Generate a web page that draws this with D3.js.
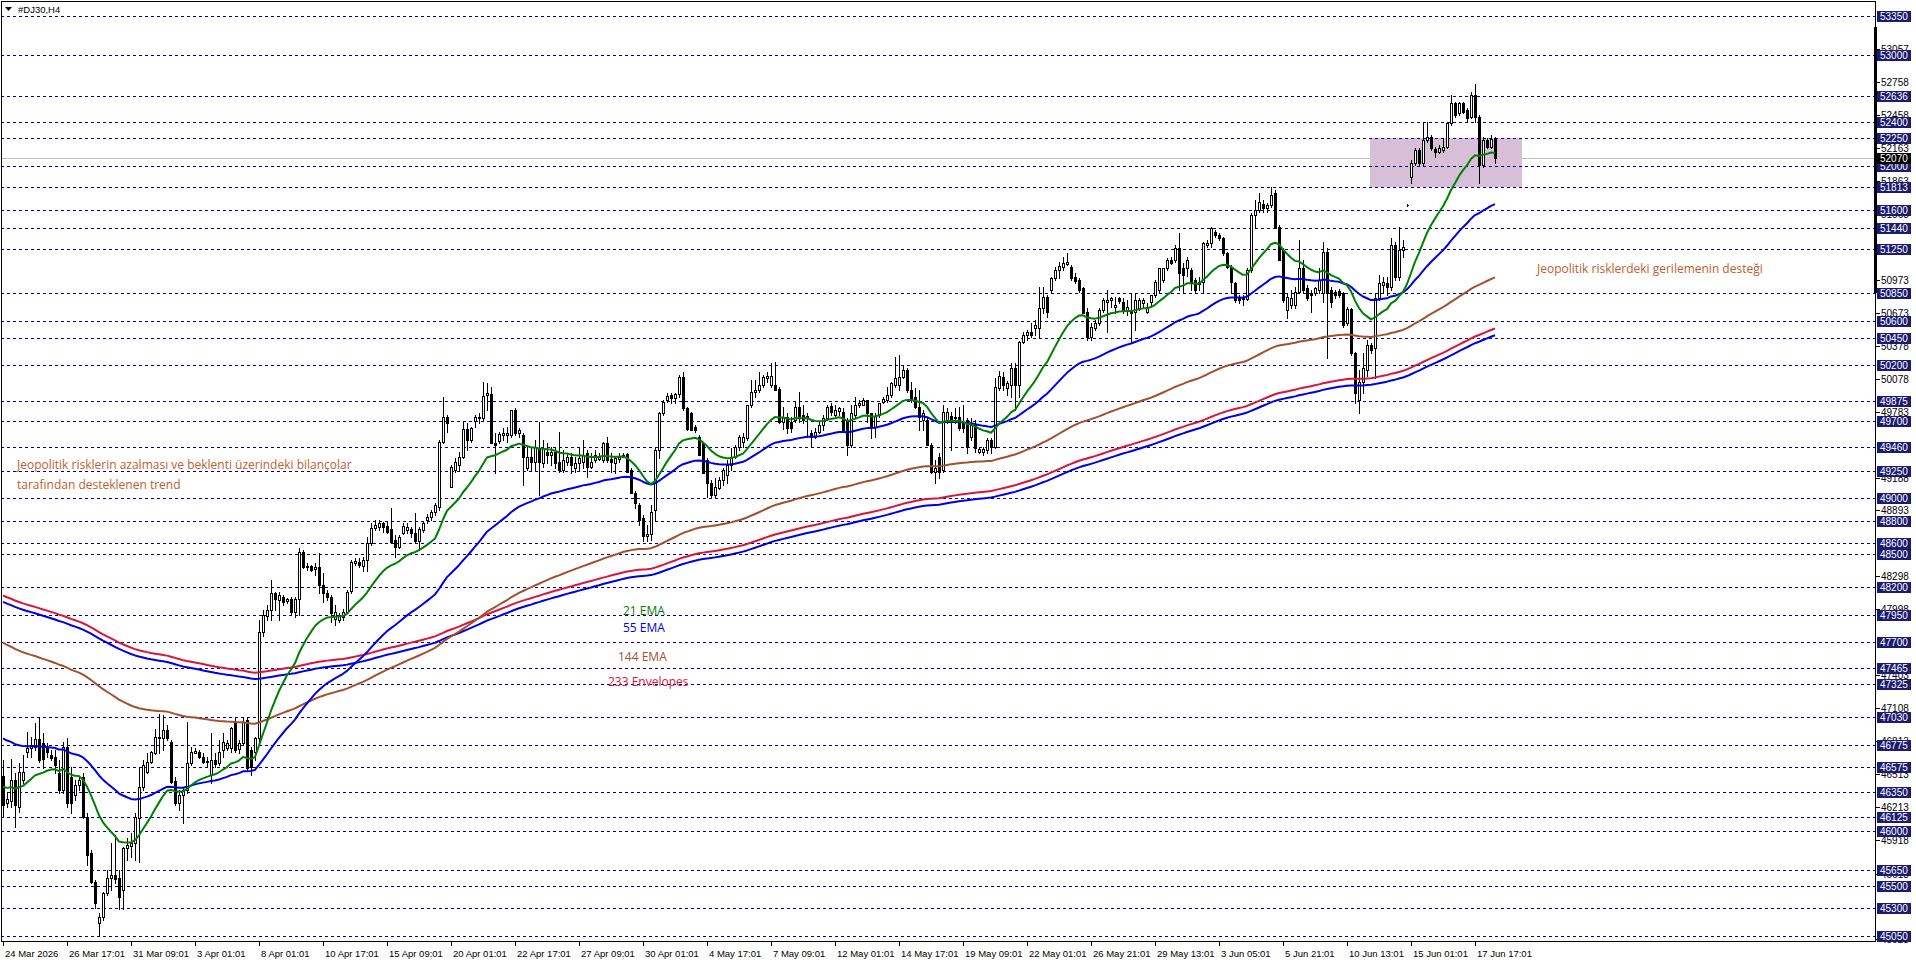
<!DOCTYPE html>
<html>
<head>
<meta charset="utf-8">
<script src="https://cdn.jsdelivr.net/npm/d3@7"></script>
<style>
  body { margin: 0; background: #fff; overflow: hidden; }
  svg { display: block; }
</style>
</head>
<body>
<div id="chart"></div>
<script>
// #DJ30 H4 candles (oldest first)
const openP = [
  46494,46250,46268,46458,46214,46458,46711,46747,46756,46828,
  46792,46756,46684,46666,46521,46368,46756,46485,46323,46413,
  46485,46124,45799,45537,45167,45222,45438,45573,45600,45573,
  45465,45844,45862,45890,46115,46395,46530,46620,46702,46837,
  46837,46909,46801,46449,46250,46323,46368,46611,46702,46711,
  46666,46629,46503,46638,46611,46729,46747,46747,46972,46738,
  46792,46999,46729,46711,46837,47794,47938,47992,48145,48082,
  48109,48073,48091,47974,48091,48516,48380,48389,48362,48380,
  48217,48145,48109,47911,47902,47929,47974,48163,48416,48425,
  48389,48444,48597,48732,48741,48777,48750,48723,48624,48561,
  48687,48714,48723,48687,48615,48714,48804,48831,48876,48922,
  49508,49734,49102,49255,49300,49373,49625,49526,49698,49725,
  49725,49932,49941,49499,49517,49571,49571,49571,49797,49590,
  49571,49273,49373,49327,49454,49318,49418,49391,49418,49327,
  49255,49327,49373,49273,49318,49327,49409,49282,49345,49355,
  49345,49499,49355,49318,49355,49373,49400,49255,49048,48940,
  48822,48660,48678,48894,49436,49770,49887,49932,49905,49941,
  50095,49815,49770,49643,49553,49499,49345,49138,49030,49093,
  49165,49210,49300,49373,49463,49508,49544,49842,49959,49977,
  50023,50086,50023,50023,49986,49688,49734,49688,49707,49824,
  49752,49725,49590,49553,49598,49661,49725,49833,49752,49788,
  49779,49707,49481,49752,49842,49842,49887,49770,49643,49752,
  49869,49887,49932,50023,50023,50095,50158,49977,49914,49824,
  49707,49707,49481,49237,49373,49255,49707,49743,49725,49734,
  49688,49707,49553,49661,49418,49418,49436,49526,49463,49995,
  50095,49995,50023,50176,50023,50411,50474,50501,50537,50537,
  50718,50817,50880,50988,51060,51087,51114,51087,50997,50970,
  50898,50682,50456,50537,50582,50700,50772,50790,50727,50808,
  50772,50700,50700,50682,50718,50763,50682,50772,50835,50880,
  50970,51078,51150,51150,51259,51078,51078,51060,50970,50934,
  50952,51286,51304,51403,51376,51349,51214,51087,50943,50817,
  50817,50799,51060,51556,51602,51656,51620,51647,51755,51448,
  51241,50700,50745,50745,50862,51078,50898,50853,50853,50880,
  50853,51223,50880,50862,50871,50853,50582,50709,50312,49887,
  50050,50158,50384,50357,50808,50925,50943,50907,51286,50997,
  51241,51647,51900,52026,52144,52026,52234,52261,52153,52126,
  52144,52171,52387,52568,52478,52568,52505,52442,52640,52442,
  52008,52234,52171,52252
];
const highP = [
  46638,46341,46648,46521,46611,46684,46891,46846,46972,47027,
  46882,46792,46729,46729,46638,46801,46837,46575,46458,46485,
  46521,46160,45826,45555,45258,45447,45646,45890,45962,45646,
  45853,45935,45980,46160,46575,46638,46702,46720,46918,47054,
  47045,46954,46819,46485,46368,46395,46981,46756,46747,46729,
  46702,46666,46882,46702,46819,46882,46819,46936,47027,46819,
  47027,47027,46756,46846,47902,47992,48037,48262,48154,48154,
  48127,48100,48109,48109,48552,48534,48416,48398,48416,48507,
  48326,48172,48127,48037,47965,48001,48172,48444,48461,48461,
  48470,48651,48777,48804,48804,48786,48786,48912,48669,48669,
  48777,48777,48741,48867,48741,48786,48858,48894,48958,49526,
  49914,49752,49300,49364,49418,49688,49680,49643,49752,49770,
  50050,50041,50005,49590,49598,49634,49643,49797,49815,49634,
  49590,49463,49454,49526,49688,49526,49499,49463,49463,49598,
  49436,49409,49409,49373,49463,49526,49436,49409,49436,49409,
  49508,49553,49409,49373,49409,49409,49409,49273,49066,48958,
  48849,48759,48940,49454,49779,49887,49950,49950,49950,50113,
  50140,49824,49779,49661,49571,49508,49364,49165,49183,49192,
  49273,49345,49454,49481,49571,49590,49842,50068,50068,50140,
  50113,50140,50221,50230,50005,49824,49770,49734,49869,49959,
  49842,49770,49616,49634,49688,49752,49842,49860,49842,49824,
  49815,49725,49842,49914,49887,49905,49887,49770,49770,49860,
  49914,50005,50050,50275,50293,50203,50176,50050,49995,49977,
  49797,49734,49499,49345,49409,49842,49815,49779,49815,49824,
  49842,49725,49725,49707,49463,49463,49544,49544,50086,50149,
  50140,50059,50221,50221,50420,50501,50519,50582,50609,50907,
  50907,50835,50997,51087,51132,51178,51214,51105,51033,50988,
  50907,50718,50582,50609,50718,50808,50880,50817,50817,50817,
  50808,50790,50853,50853,50808,50808,50763,50835,50970,51078,
  51078,51169,51178,51286,51394,51123,51178,51078,50988,50997,
  51313,51331,51448,51421,51394,51358,51223,51105,50952,50835,
  50835,51078,51575,51692,51755,51692,51665,51809,51782,51466,
  51259,50853,50880,50907,51331,51150,50925,50880,50907,51078,
  51313,51259,50907,50880,50889,50862,50727,50718,50321,50158,
  50312,50429,50402,50853,51015,50997,50997,51349,51313,51448,
  51331,51656,52053,52161,52161,52387,52396,52279,52171,52189,
  52252,52396,52640,52577,52577,52577,52523,52667,52739,52459,
  52261,52252,52279,52261
];
const lowP = [
  46124,46214,46214,46033,46169,46431,46666,46666,46729,46620,
  46566,46666,46638,46521,46341,46341,46214,46160,46277,46368,
  46115,45690,45528,45303,45050,45194,45420,45465,45528,45294,
  45294,45736,45763,45736,45718,46368,46521,46611,46693,46702,
  46729,46819,46431,46232,46187,46069,46341,46593,46702,46657,
  46611,46575,46431,46575,46593,46666,46729,46711,46711,46702,
  46774,46548,46503,46638,46774,47758,47902,47902,47992,47902,
  48037,48055,47947,47929,47947,48371,48353,48344,48307,48145,
  48064,48082,47884,47857,47884,47902,47965,48145,48398,48380,
  48344,48344,48579,48714,48714,48696,48687,48597,48471,48552,
  48678,48687,48651,48597,48534,48696,48777,48804,48849,48894,
  49499,49598,49102,49237,49255,49364,49436,49508,49643,49680,
  49707,49797,49499,49228,49499,49526,49508,49553,49571,49553,
  49120,49255,49255,49255,49030,49282,49318,49300,49273,49237,
  49237,49300,49228,49237,49255,49273,49192,49273,49327,49345,
  49327,49327,49237,49228,49327,49373,49237,49048,48912,48759,
  48615,48615,48624,48804,49364,49752,49869,49860,49860,49914,
  49797,49616,49616,49598,49391,49228,49012,49012,49012,49084,
  49120,49138,49255,49364,49436,49463,49526,49824,49914,49959,
  50005,50050,50005,49977,49679,49625,49590,49598,49688,49688,
  49680,49553,49463,49544,49590,49616,49707,49752,49734,49752,
  49616,49391,49463,49734,49824,49842,49688,49544,49553,49734,
  49860,49869,49914,50005,49977,50086,49959,49869,49815,49616,
  49616,49481,49228,49138,49183,49237,49680,49436,49680,49616,
  49598,49409,49526,49418,49409,49391,49409,49409,49454,49977,
  49977,49932,49914,49797,49914,50402,50429,50456,50474,50447,
  50673,50637,50862,50970,50988,51060,51105,50970,50943,50862,
  50673,50429,50429,50519,50564,50682,50501,50727,50673,50763,
  50673,50655,50402,50519,50700,50727,50673,50745,50817,50862,
  50952,51060,51114,51132,50880,50853,51006,50880,50862,50880,
  50853,51268,51268,51358,51331,51196,51078,50862,50772,50763,
  50745,50790,51042,51439,51584,51584,51584,51629,51439,51150,
  50772,50628,50718,50718,50853,50853,50790,50682,50835,50853,
  50772,50267,50727,50808,50817,50546,50564,50294,49860,49770,
  49950,50104,50312,50086,50790,50853,50835,50880,50970,50970,
  51178,51638,51845,52008,52008,52008,52216,52144,52080,52117,
  52126,52161,52369,52442,52459,52478,52396,52433,52396,51845,
  51990,52161,52161,52026
];
const closeP = [
  46232,46287,46458,46232,46530,46530,46747,46774,46828,46638,
  46648,46711,46657,46593,46368,46756,46250,46250,46413,46458,
  46124,45781,45537,45348,45222,45438,45573,45600,45564,45402,
  45844,45871,45890,46124,46395,46593,46620,46711,46846,46846,
  46909,46837,46440,46250,46323,46368,46611,46711,46720,46666,
  46620,46620,46638,46602,46711,46801,46792,46927,46729,46792,
  46981,46566,46575,46837,47794,47947,47992,48145,48091,48127,
  48064,48091,47974,48091,48516,48380,48389,48353,48380,48217,
  48145,48109,47965,47974,47947,47974,48154,48425,48434,48398,
  48444,48597,48732,48759,48777,48741,48696,48606,48561,48651,
  48750,48741,48687,48615,48723,48777,48831,48876,48940,49508,
  49734,49680,49282,49327,49373,49625,49526,49634,49734,49734,
  49924,49950,49499,49481,49580,49590,49590,49797,49590,49616,
  49373,49373,49327,49463,49327,49454,49391,49418,49318,49255,
  49345,49373,49300,49318,49364,49391,49282,49327,49391,49373,
  49499,49345,49327,49364,49373,49391,49237,49048,48958,48804,
  48660,48678,48876,49436,49770,49869,49924,49905,49941,50095,
  49815,49625,49616,49616,49391,49228,49138,49030,49102,49165,
  49255,49300,49373,49463,49553,49553,49842,49959,49977,50023,
  50095,50104,50104,49977,49688,49734,49634,49634,49824,49743,
  49707,49743,49553,49598,49661,49725,49824,49779,49797,49815,
  49616,49481,49770,49842,49860,49887,49770,49643,49743,49860,
  49896,49932,50041,50086,50095,50158,49977,49887,49824,49734,
  49770,49481,49237,49273,49237,49779,49779,49688,49734,49634,
  49634,49463,49661,49454,49445,49445,49526,49463,50005,50104,
  50023,50041,50176,50023,50411,50474,50501,50474,50564,50718,
  50817,50682,50988,51060,51096,51123,51132,50988,50961,50880,
  50673,50456,50546,50582,50700,50790,50790,50808,50745,50781,
  50700,50727,50673,50790,50790,50790,50727,50835,50952,51078,
  51078,51150,51123,51259,51033,51015,51150,50952,50880,50952,
  51304,51304,51439,51376,51349,51214,51087,50952,50790,50790,
  50799,51060,51556,51602,51674,51620,51647,51737,51439,51150,
  50790,50817,50808,50862,51078,50880,50808,50835,50898,50970,
  51223,50853,50772,50835,50835,50564,50709,50312,49950,50050,
  50176,50384,50339,50808,50943,50952,50907,51286,50997,51241,
  51268,51647,52026,52144,52026,52234,52261,52161,52126,52161,
  52171,52387,52568,52459,52568,52487,52433,52640,52442,52008,
  52234,52171,52243,52070
];

// x-axis labels, one every 16 bars
const timeLabels = [
  '24 Mar 2026','26 Mar 17:01','31 Mar 09:01','3 Apr 01:01','8 Apr 01:01',
  '10 Apr 17:01','15 Apr 09:01','20 Apr 01:01','22 Apr 17:01','27 Apr 09:01',
  '30 Apr 01:01','4 May 17:01','7 May 09:01','12 May 01:01','14 May 17:01',
  '19 May 09:01','22 May 01:01','26 May 21:01','29 May 13:01','3 Jun 05:01',
  '5 Jun 21:01','10 Jun 13:01','15 Jun 01:01','17 Jun 17:01'
];
const LABEL_STEP = 16;

// horizontal levels drawn on the chart (navy tags on the price scale)
const levels = [
  53350,53000,52636,52400,52250,52000,51813,51600,51440,51250,
  50850,50600,50450,50200,49875,49700,49460,49250,49000,48800,
  48600,48500,48200,47950,47700,47465,47325,47030,46775,46575,
  46350,46125,46000,45650,45500,45300,45050
];
// plain price-scale ticks that show (some only partly) beside the tags
const priceTicks = [
  53057,52758,52458,52163,51863,51563,50973,50673,50378,50078,
  49783,49188,48893,48298,47998,47403,47108,46813,46513,46213,
  45918,45613,45023
];
const bidPrice = 52070;

// indicator settings and their values at the first visible bar
const emaFast = { period: 21, start: 46397 };
const emaMid = { period: 55, start: 46834 };
const emaSlow = { period: 144, start: 47697 };
const envelope = { period: 233, start: 48094, deviation: 0.0006 };

// support box: [first bar, last bar, top price, bottom price]
const zoneBox = [342, 380, 52250, 51813];

const notes = [
  'Jeopolitik risklerin azalması ve beklenti üzerindeki bilançolar',
  'tarafından desteklenen trend',
  'Jeopolitik risklerdeki gerilemenin desteği'
];
const legendNames = ['21 EMA', '55 EMA', '144 EMA', '233 Envelopes'];

// ── layout ────────────────────────────────────────────────────────────
const W = 1916, H = 963;
const plot = { left: 1, right: 1875, top: 1, bottom: 941 };

const svg = d3.select('#chart').append('svg')
  .attr('width', W).attr('height', H)
  .style('font-family', '"Liberation Sans", Arial, sans-serif');

const x = d3.scaleLinear().domain([0, 368]).range([3, 1475]);
const y = d3.scaleLinear().domain([45050, 53350]).range([936, 16.4]);
const px = v => Math.round(x(v));
const py = v => Math.round(y(v));

svg.append('defs').append('clipPath').attr('id', 'plotClip')
  .append('rect')
  .attr('x', plot.left).attr('y', plot.top)
  .attr('width', plot.right - plot.left).attr('height', plot.bottom - plot.top);

const g = svg.append('g').attr('clip-path', 'url(#plotClip)');

// bid line
g.append('line')
  .attr('x1', plot.left).attr('x2', plot.right)
  .attr('y1', py(bidPrice) + 0.5).attr('y2', py(bidPrice) + 0.5)
  .attr('stroke', '#c0c0c0');

// purple zone
g.append('rect')
  .attr('x', px(zoneBox[0]) - 1)
  .attr('y', py(zoneBox[2]))
  .attr('width', px(zoneBox[1]) - px(zoneBox[0]))
  .attr('height', py(zoneBox[3]) - py(zoneBox[2]))
  .attr('fill', '#d8bfd8');

// dashed levels
g.selectAll('.level').data(levels).join('line')
  .attr('class', 'level')
  .attr('x1', plot.left).attr('x2', plot.right)
  .attr('y1', d => py(d) + 0.5).attr('y2', d => py(d) + 0.5)
  .attr('stroke', '#000080')
  .attr('stroke-dasharray', '3,3')
  .attr('shape-rendering', 'crispEdges');

// candles
const bars = openP.map((o, i) => ({ i, o, h: highP[i], l: lowP[i], c: closeP[i] }));
const candles = g.append('g').attr('shape-rendering', 'crispEdges');
candles.selectAll('.wick').data(bars).join('line')
  .attr('class', 'wick')
  .attr('x1', d => px(d.i) + 0.5).attr('x2', d => px(d.i) + 0.5)
  .attr('y1', d => py(d.h)).attr('y2', d => py(d.l) + 1)
  .attr('stroke', '#000');
candles.selectAll('.body').data(bars).join('path')
  .attr('class', 'body')
  .attr('d', d => {
    const top = py(Math.max(d.o, d.c)), bot = py(Math.min(d.o, d.c));
    return `M${px(d.i) - 0.5},${top + 0.5}h2v${bot - top}h-2z`;
  })
  .attr('fill', d => d.c >= d.o ? '#fff' : '#000')
  .attr('stroke', '#000');

// moving averages
const ema = (vals, period, start) => {
  const a = 2 / (period + 1);
  let v = start;
  return vals.map((c, i) => (i === 0 ? v : (v = v + a * (c - v))));
};
const fast = ema(closeP, emaFast.period, emaFast.start);
const mid = ema(closeP, emaMid.period, emaMid.start);
const slow = ema(closeP, emaSlow.period, emaSlow.start);
const env = ema(closeP, envelope.period, envelope.start);
const envUp = env.map(v => v * (1 + envelope.deviation));
const envDn = env.map(v => v * (1 - envelope.deviation));

const line = d3.line().x((d, i) => x(i)).y(d => y(d));
const series = [
  { vals: envDn, color: '#0000e6' },
  { vals: envUp, color: '#dc143c' },
  { vals: slow, color: '#a0522d' },
  { vals: mid, color: '#0000e6' },
  { vals: fast, color: '#008000' }
];
g.selectAll('.ma').data(series).join('path')
  .attr('class', 'ma')
  .attr('d', d => line(d.vals))
  .attr('fill', 'none')
  .attr('stroke', d => d.color)
  .attr('stroke-width', 2)
  .attr('stroke-linejoin', 'round');

// text notes
const noteFont = '"Open Sans", "Noto Sans", sans-serif';
const noteColor = '#c0602d';
const notePos = [[17, 469], [17, 489], [1537, 273]];
notes.forEach((n, k) => {
  svg.append('text').attr('x', notePos[k][0]).attr('y', notePos[k][1]).text(n)
    .attr('fill', noteColor).style('font-family', noteFont).style('font-size', '12px');
});

const legendPos = [[623, 615], [623, 632], [618, 661], [608, 686]];
const legendColors = ['#008000', '#0000e6', '#a0522d', '#dc143c'];
legendNames.forEach((n, k) => {
  svg.append('text').attr('x', legendPos[k][0]).attr('y', legendPos[k][1])
    .text(n).attr('fill', legendColors[k])
    .style('font-family', noteFont).style('font-size', '12px');
});

// frame
svg.append('rect')
  .attr('x', plot.left + 0.5).attr('y', plot.top + 0.5)
  .attr('width', plot.right - plot.left).attr('height', plot.bottom - plot.top)
  .attr('fill', 'none').attr('stroke', '#000').attr('shape-rendering', 'crispEdges');
svg.append('rect').attr('x', 1874).attr('y', 27).attr('width', 3).attr('height', 266).attr('fill', '#000');

// title
svg.append('path').attr('d', 'M5,7h7l-3.5,4z').attr('fill', '#000');
svg.append('text').attr('x', 18).attr('y', 13).text('#DJ30,H4')
  .style('font-size', '9.5px').attr('fill', '#000');

// time axis
const tIdx = timeLabels.map((t, k) => k * LABEL_STEP);
svg.selectAll('.ttick').data(tIdx).join('line')
  .attr('x1', d => px(d) + 0.5).attr('x2', d => px(d) + 0.5)
  .attr('y1', plot.bottom).attr('y2', plot.bottom + 5)
  .attr('stroke', '#000');
svg.selectAll('.tlab').data(timeLabels).join('text')
  .attr('x', (d, k) => px(tIdx[k]) + 2).attr('y', 957)
  .text(d => d).style('font-size', '9.5px').attr('fill', '#000');

// price scale: plain ticks, then level tags, then bid tag
const axisX = plot.right + 1;
svg.selectAll('.ptick').data(priceTicks).join('line')
  .attr('x1', axisX).attr('x2', axisX + 4)
  .attr('y1', d => py(d) + 0.5).attr('y2', d => py(d) + 0.5)
  .attr('stroke', '#000');
svg.selectAll('.plab').data(priceTicks).join('text')
  .attr('x', axisX + 5).attr('y', d => py(d) + 4)
  .text(d => d).style('font-size', '10px').attr('fill', '#000');

const tag = (v, bg) => {
  const t = svg.append('g').attr('transform', `translate(${axisX + 1},${py(v)})`);
  t.append('rect').attr('x', 0).attr('y', -5).attr('width', 34).attr('height', 11).attr('fill', bg);
  t.append('text').attr('x', 3).attr('y', 4).text(v)
    .style('font-size', '10px').attr('fill', '#fff');
};
levels.forEach(v => tag(v, '#1b1b6f'));
tag(bidPrice, '#000');
</script>
</body>
</html>
